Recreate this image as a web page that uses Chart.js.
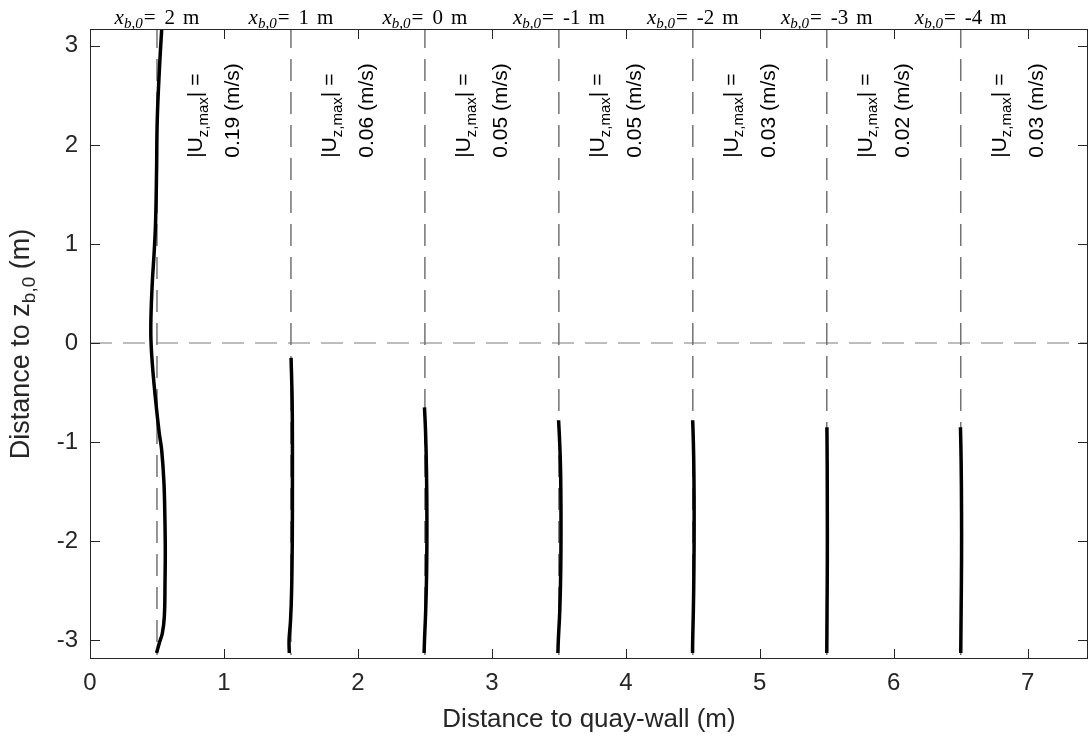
<!DOCTYPE html>
<html>
<head>
<meta charset="utf-8">
<script src="https://cdn.jsdelivr.net/npm/chart.js@4/dist/chart.umd.min.js"></script>
<style>
    html, body { margin: 0; padding: 0; background: #fff; }
    #wrap { position: relative; width: 1089px; height: 740px; }
</style>
</head>
<body>
<div id="wrap"><canvas id="myChart"></canvas></div>
<script>
(() => {
    'use strict'

    // profile base positions and labels
    const baseX = [0.5, 1.5, 2.5, 3.5, 4.5, 5.5, 6.5]
    const xbLabels = ['2', '1', '0', '-1', '-2', '-3', '-4']
    const uzMax = ['0.19', '0.06', '0.05', '0.05', '0.03', '0.02', '0.03']

    const xTicks = [0, 1, 2, 3, 4, 5, 6, 7]
    const yTicks = [-3, -2, -1, 0, 1, 2, 3]

    // velocity profiles (x = base + scaled velocity, z = height)
    const z1 = [-3.13, -3.03, -2.93, -2.76, -2.42, -2.09, -1.76, -1.41, -1.08, -0.91, -0.58, -0.24, 0.03, 0.26, 0.61, 0.94, 1.24, 1.75, 2.25, 2.76, 3.16, 3.25]
    const x1 = [0.497, 0.517, 0.54, 0.555, 0.56, 0.562, 0.559, 0.552, 0.535, 0.517, 0.49, 0.467, 0.455, 0.455, 0.465, 0.48, 0.49, 0.497, 0.502, 0.518, 0.535, 0.54]

    const z2 = [-3.13, -3.0, -2.8, -2.5, -2.0, -1.5, -1.0, -0.58, -0.15]
    const x2 = [1.488, 1.486, 1.497, 1.505, 1.51, 1.511, 1.511, 1.509, 1.501]

    const z3 = [-3.13, -3.0, -2.7, -2.3, -1.8, -1.3, -0.9, -0.65]
    const x3 = [2.494, 2.497, 2.506, 2.513, 2.515, 2.512, 2.505, 2.497]

    const z4 = [-3.13, -3.0, -2.7, -2.3, -1.8, -1.3, -1.0, -0.78]
    const x4 = [3.493, 3.496, 3.507, 3.514, 3.516, 3.513, 3.506, 3.498]

    const z5 = [-3.13, -3.0, -2.7, -2.3, -1.8, -1.3, -1.0, -0.78]
    const x5 = [4.498, 4.499, 4.504, 4.508, 4.51, 4.508, 4.504, 4.499]

    const z6 = [-3.13, -2.7, -2.2, -1.7, -1.2, -0.85]
    const x6 = [5.5, 5.502, 5.504, 5.504, 5.503, 5.501]

    const z7 = [-3.13, -2.7, -2.2, -1.7, -1.2, -0.85]
    const x7 = [6.5, 6.503, 6.506, 6.506, 6.503, 6.498]

    const zTop = 3.2
    const zBottom = -3.15

    const axisColor = '#262626'
    const sans = '"Liberation Sans", Arial, Helvetica, sans-serif'
    const serif = '"Liberation Serif", "DejaVu Serif", serif'

    const profiles = [[x1, z1], [x2, z2], [x3, z3], [x4, z4], [x5, z5], [x6, z6], [x7, z7]]

    const datasets = []
    profiles.forEach(([xs, zs]) => {
        datasets.push({
            data: xs.map((v, i) => ({ x: v, y: zs[i] })),
            showLine: true,
            borderColor: '#000000',
            borderWidth: 3.5,
            pointRadius: 0,
            tension: 0.4
        })
    })
    baseX.forEach(b => {
        datasets.push({
            data: [{ x: b, y: zTop }, { x: b, y: zBottom }],
            showLine: true,
            borderColor: '#737373',
            borderWidth: 1.5,
            borderDash: [22, 11],
            pointRadius: 0
        })
    })
    datasets.push({
        data: [{ x: 0, y: 0 }, { x: 7.45, y: 0 }],
        showLine: true,
        borderColor: '#a8a8a8',
        borderWidth: 1.5,
        borderDash: [22, 11],
        pointRadius: 0
    })

    // draws a run of text pieces [text, font, offset, gap] from 0 or centred
    function drawRun(ctx, pieces, align) {
        let total = 0
        pieces.forEach(p => { ctx.font = p[1]; total += ctx.measureText(p[0]).width + (p[3] || 0) })
        let cx = align === 'center' ? -total / 2 : 0
        pieces.forEach(p => {
            ctx.font = p[1]
            ctx.fillText(p[0], cx, p[2])
            cx += ctx.measureText(p[0]).width + (p[3] || 0)
        })
    }

    const decor = {
        id: 'decor',
        afterDraw(chart) {
            const { ctx, chartArea: a, scales: { x, y } } = chart
            ctx.save()

            // axes box
            ctx.strokeStyle = axisColor
            ctx.lineWidth = 1
            ctx.strokeRect(a.left + 0.5, a.top + 0.5, a.right - a.left - 1, a.bottom - a.top - 1)

            // inward ticks on all four sides
            const tl = 10
            ctx.beginPath()
            xTicks.forEach(v => {
                const px = Math.round(x.getPixelForValue(v)) + 0.5
                ctx.moveTo(px, a.bottom); ctx.lineTo(px, a.bottom - tl)
                ctx.moveTo(px, a.top); ctx.lineTo(px, a.top + tl)
            })
            yTicks.forEach(v => {
                const py = Math.round(y.getPixelForValue(v)) + 0.5
                ctx.moveTo(a.left, py); ctx.lineTo(a.left + tl, py)
                ctx.moveTo(a.right, py); ctx.lineTo(a.right - tl, py)
            })
            ctx.stroke()

            // x_b,0 labels above the box
            ctx.fillStyle = '#000000'
            ctx.textBaseline = 'alphabetic'
            ctx.textAlign = 'left'
            baseX.forEach((b, i) => {
                ctx.save()
                ctx.translate(x.getPixelForValue(b), a.top - 5)
                drawRun(ctx, [
                    ['x', 'italic 21px ' + serif, 0, 0],
                    ['b,0', 'italic 15px ' + serif, 4, 1],
                    ['=', '21px ' + serif, 0, 9],
                    [xbLabels[i], '21px ' + serif, 0, 8],
                    ['m', '21px ' + serif, 0, 0]
                ], 'center')
                ctx.restore()
            })

            // |U_z,max| annotations, rotated
            ctx.textBaseline = 'middle'
            baseX.forEach((b, i) => {
                const py = y.getPixelForValue(1.87)
                ctx.save()
                ctx.translate(x.getPixelForValue(b + 0.295), py)
                ctx.rotate(-Math.PI / 2)
                drawRun(ctx, [
                    ['|U', '21px ' + sans, 0],
                    ['z,max', '15px ' + sans, 7],
                    ['| =', '21px ' + sans, 0]
                ], 'left')
                ctx.restore()
                ctx.save()
                ctx.translate(x.getPixelForValue(b + 0.571), py)
                ctx.rotate(-Math.PI / 2)
                drawRun(ctx, [[uzMax[i] + ' (m/s)', '21px ' + sans, 0]], 'left')
                ctx.restore()
            })

            // axis titles
            ctx.fillStyle = axisColor
            ctx.save()
            ctx.translate((a.left + a.right) / 2, 720)
            drawRun(ctx, [['Distance to quay-wall (m)', '26px ' + sans, 0]], 'center')
            ctx.restore()

            ctx.save()
            ctx.translate(22, (a.top + a.bottom) / 2)
            ctx.rotate(-Math.PI / 2)
            drawRun(ctx, [
                ['Distance to z', '27px ' + sans, 0],
                ['b,0', '19px ' + sans, 8],
                [' (m)', '27px ' + sans, 0]
            ], 'center')
            ctx.restore()

            ctx.restore()
        }
    }

    const ctx = document.getElementById('myChart')

    // eslint-disable-next-line no-unused-vars
    const myChart = new Chart(ctx, {
        type: 'scatter',
        data: { datasets: datasets },
        options: {
            responsive: true,
            maintainAspectRatio: false,
            animation: false,
            events: [],
            layout: { padding: { top: 29, right: 1, left: 0, bottom: 0 } },
            plugins: {
                legend: { display: false },
                tooltip: { enabled: false }
            },
            scales: {
                x: {
                    type: 'linear',
                    min: 0,
                    max: 7.45,
                    grid: { display: false, drawTicks: false },
                    border: { display: false },
                    afterBuildTicks: s => { s.ticks = xTicks.map(v => ({ value: v })) },
                    afterFit: s => { s.height = 81 },
                    ticks: {
                        font: { size: 24, family: sans },
                        color: axisColor,
                        padding: 10,
                        maxRotation: 0
                    }
                },
                y: {
                    type: 'linear',
                    min: -3.19,
                    max: 3.17,
                    grid: { display: false, drawTicks: false },
                    border: { display: false },
                    afterBuildTicks: s => { s.ticks = yTicks.map(v => ({ value: v })) },
                    afterFit: s => { s.width = 90 },
                    ticks: {
                        font: { size: 24, family: sans },
                        color: axisColor,
                        padding: 12
                    }
                }
            }
        },
        plugins: [decor]
    })
})()
</script>
</body>
</html>
